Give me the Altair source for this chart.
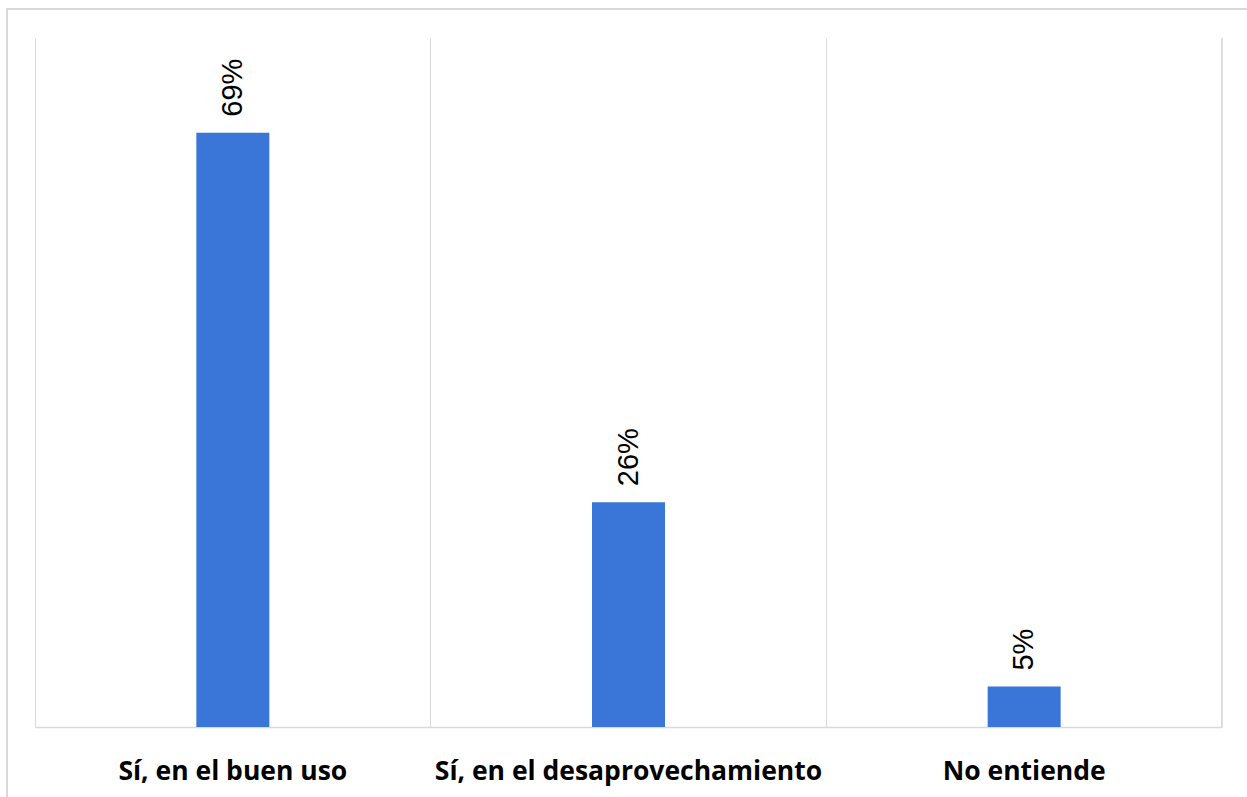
import altair as alt
import pandas as pd

categories = ["Sí, en el buen uso", "Sí, en el desaprovechamiento", "No entiende"]
values = [0.69, 0.261, 0.047]
labels = ["69%", "26%", "5%"]

df = pd.DataFrame({"cat": categories, "val": values, "lab": labels})

W, H = 1187, 689
grid_c = "#d9d9d9"

x_enc = alt.X("cat:N", sort=categories, title=None,
              scale=alt.Scale(paddingInner=0, paddingOuter=0),
              axis=alt.Axis(labelAngle=0, ticks=False, labelPadding=52, labelLimit=0,
                            labelBaseline="alphabetic", labelFont="Open Sans",
                            labelFontWeight="bold", labelFontSize=26.5, labelColor="#000000",
                            domainColor=grid_c, domainWidth=1.5,
                            grid=True, gridColor=grid_c, gridWidth=1, bandPosition=0))
y_enc = alt.Y("val:Q", scale=alt.Scale(domain=[0, 0.8]), axis=None)

bars = alt.Chart(df).mark_bar(size=73, color="#3A75D8").encode(x=x_enc, y=y_enc)

text = alt.Chart(df).mark_text(angle=270, align="left", baseline="middle", dx=16,
                               font="Liberation Sans", fontSize=29, color="#000000").encode(
    x=alt.X("cat:N", sort=categories), y="val:Q", text="lab:N")

right_line = alt.Chart(df).mark_rule(color=grid_c, strokeWidth=1).encode(
    x=alt.value(W), y=alt.value(0), y2=alt.value(H))

border = alt.Chart(df).mark_rect(fill=None, stroke=grid_c, strokeWidth=1.5).encode(
    x=alt.value(-28), x2=alt.value(1213), y=alt.value(-29), y2=alt.value(765))

chart = alt.layer(border, bars, text, right_line).properties(
    width=W, height=H,
    autosize=alt.AutoSizeParams(type="none"),
    padding={"left": 35, "top": 38, "right": 25, "bottom": 70},
).configure(background="white").configure_view(stroke=None)

chart.save("out.html", embed_options={"renderer": "svg", "actions": False})
